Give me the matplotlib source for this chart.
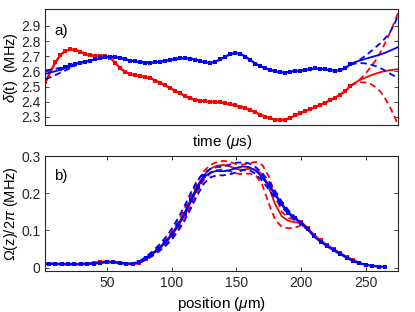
import numpy as np
import matplotlib
matplotlib.use("Agg")
import matplotlib.pyplot as plt

plt.rcParams["font.family"] = ["Liberation Sans", "DejaVu Sans"]
plt.rcParams["mathtext.fontset"] = "custom"
plt.rcParams["mathtext.rm"] = "Liberation Sans"
plt.rcParams["mathtext.it"] = "Liberation Sans:italic"

# ---- panel a) detuning vs time (us) ----
t_red_start = 0.0
delta_red = [2.53, 2.60, 2.66, 2.71, 2.735, 2.745, 2.743, 2.73, 2.715, 2.706,
             2.703, 2.705, 2.702, 2.69, 2.655, 2.62, 2.597, 2.583, 2.575, 2.568,
             2.562, 2.555, 2.54, 2.524, 2.508, 2.49, 2.472, 2.455, 2.437, 2.423,
             2.413, 2.408, 2.404, 2.401, 2.399, 2.396, 2.39, 2.383, 2.376, 2.368,
             2.358, 2.345, 2.33, 2.316, 2.302, 2.29, 2.283, 2.279, 2.283, 2.295,
             2.31, 2.325, 2.34, 2.353, 2.366, 2.379, 2.395, 2.41, 2.428, 2.448,
             2.47, 2.505]
t_blue_start = 0.15
delta_blue = [2.615, 2.628, 2.64, 2.65, 2.658, 2.665, 2.672, 2.68, 2.688, 2.694,
              2.697, 2.695, 2.688, 2.68, 2.672, 2.666, 2.662, 2.658, 2.657, 2.66,
              2.665, 2.67, 2.676, 2.682, 2.686, 2.687, 2.685, 2.678, 2.668, 2.66,
              2.657, 2.665, 2.68, 2.698, 2.714, 2.722, 2.716, 2.698, 2.675, 2.652,
              2.635, 2.62, 2.61, 2.60, 2.594, 2.593, 2.598, 2.603, 2.605, 2.61,
              2.616, 2.62, 2.618, 2.613, 2.609, 2.605, 2.608, 2.622, 2.648]

# extrapolated fits at the end of the pulse
t_end = [3.05, 3.10, 3.15, 3.20, 3.25, 3.30, 3.35, 3.40, 3.45, 3.50, 3.53]
red_fit_end = [2.505, 2.527, 2.545, 2.56, 2.573, 2.585, 2.595, 2.603, 2.609, 2.613, 2.615]
red_hi_end = [2.505, 2.525, 2.55, 2.585, 2.625, 2.67, 2.725, 2.79, 2.86, 2.94, 2.99]
red_lo_end = [2.505, 2.52, 2.528, 2.528, 2.518, 2.498, 2.468, 2.42, 2.36, 2.29, 2.24]
blue_fit_end = [2.648, 2.662, 2.673, 2.683, 2.693, 2.702, 2.712, 2.724, 2.738, 2.752, 2.762]
blue_hi_end = [2.645, 2.66, 2.68, 2.703, 2.73, 2.758, 2.786, 2.82, 2.862, 2.925, 2.98]
blue_lo_end = [2.645, 2.652, 2.655, 2.653, 2.646, 2.636, 2.622, 2.605, 2.585, 2.566, 2.555]

# fits at the start of the pulse (blue only)
t_start = [0.0, 0.05, 0.10, 0.15, 0.20, 0.25, 0.30]
blue_fit_start = [2.585, 2.593, 2.602, 2.612, 2.622, 2.632, 2.64]
blue_hi_start = [2.607, 2.612, 2.618, 2.624, 2.631, 2.638, 2.645]
blue_lo_start = [2.548, 2.562, 2.577, 2.592, 2.607, 2.622, 2.64]

# ---- panel b) Rabi frequency vs position (um) ----
pos = np.arange(0, 270, 5)
omega_blue = [0.010, 0.010, 0.010, 0.0095, 0.009, 0.009, 0.009, 0.010, 0.011, 0.013,
              0.0145, 0.0145, 0.013, 0.011, 0.011, 0.015, 0.025, 0.037, 0.051, 0.068,
              0.088, 0.115, 0.145, 0.182, 0.218, 0.245, np.nan, np.nan, np.nan, np.nan,
              np.nan, np.nan, np.nan, np.nan, 0.243, 0.222, 0.197, 0.170, 0.148, 0.133,
              0.120, 0.103, 0.084, 0.070, 0.058, 0.047, 0.037, 0.027, 0.018, 0.012,
              0.008, 0.005, 0.003, 0.002]
pos_red = np.arange(0, 250, 5)
omega_red = [0.011, 0.011, 0.010, 0.010, 0.010, 0.010, 0.010, 0.011, 0.013, 0.015,
             0.0165, 0.016, 0.013, 0.010, 0.009, 0.013, 0.024, 0.036, 0.050, 0.067,
             0.088, 0.114, 0.144, 0.180, 0.216, np.nan, np.nan, np.nan, np.nan, np.nan,
             np.nan, np.nan, np.nan, np.nan, np.nan, np.nan, np.nan, np.nan, np.nan, np.nan,
             0.122, 0.106, 0.087, 0.073, 0.060, 0.049, 0.039, 0.029, 0.020, 0.013]

pos_fit = np.arange(75, 210, 5)
blue_fit = [0.015, 0.025, 0.037, 0.051, 0.068, 0.089, 0.115, 0.146, 0.182, 0.217,
            0.243, 0.256, 0.260, 0.259, 0.262, 0.268, 0.272, 0.270, 0.260, 0.243,
            0.221, 0.196, 0.171, 0.150, 0.133, 0.119, 0.103]
blue_hi = [0.017, 0.029, 0.043, 0.060, 0.080, 0.104, 0.133, 0.166, 0.203, 0.235,
           0.255, 0.265, 0.270, 0.272, 0.277, 0.282, 0.283, 0.280, 0.270, 0.254,
           0.232, 0.206, 0.178, 0.155, 0.137, 0.121, 0.104]
blue_lo = [0.013, 0.021, 0.031, 0.043, 0.057, 0.075, 0.098, 0.126, 0.160, 0.196,
           0.226, 0.243, 0.248, 0.248, 0.251, 0.256, 0.262, 0.262, 0.252, 0.233,
           0.210, 0.186, 0.163, 0.145, 0.129, 0.117, 0.102]
red_fit = [0.013, 0.024, 0.036, 0.050, 0.067, 0.088, 0.114, 0.145, 0.182, 0.220,
           0.249, 0.266, 0.274, 0.276, 0.272, 0.265, 0.263, 0.266, 0.264, 0.250,
           0.215, 0.170, 0.138, 0.126, 0.122, 0.120, 0.104]
red_hi = [0.014, 0.026, 0.039, 0.054, 0.073, 0.096, 0.124, 0.157, 0.195, 0.232,
          0.260, 0.276, 0.284, 0.287, 0.284, 0.278, 0.277, 0.281, 0.284, 0.276,
          0.245, 0.195, 0.150, 0.134, 0.128, 0.123, 0.105]
red_lo = [0.012, 0.022, 0.033, 0.046, 0.061, 0.080, 0.104, 0.133, 0.168, 0.206,
          0.236, 0.254, 0.262, 0.264, 0.259, 0.253, 0.251, 0.253, 0.248, 0.222,
          0.172, 0.128, 0.110, 0.106, 0.107, 0.114, 0.102]

RED = (1, 0, 0)
BLUE = (0, 0, 1)
AXC = (0.15, 0.15, 0.15)
dash = (0, (3.5, 2.2))

fig = plt.figure(figsize=(4.15, 3.12), dpi=100)
ax1 = fig.add_axes([0.1096, 0.5994, 0.8502, 0.3708])
ax2 = fig.add_axes([0.1096, 0.1314, 0.8502, 0.3686])

def style(ax):
    for s in ax.spines.values():
        s.set_color(AXC)
        s.set_linewidth(0.8)
    ax.tick_params(direction="in", length=3, width=0.6, colors=AXC,
                   labelsize=10, top=True, right=True, labelcolor=(0.15, 0.15, 0.15))

# panel a
t_red = t_red_start + 0.05 * np.arange(len(delta_red))
t_blue = t_blue_start + 0.05 * np.arange(len(delta_blue))
ax1.plot(t_end, red_fit_end, color=RED, lw=1.3)
ax1.plot(t_end, red_hi_end, color=RED, lw=1.3, ls=dash)
ax1.plot(t_end, red_lo_end, color=RED, lw=1.3, ls=dash)
ax1.plot(t_red, delta_red, color=RED, lw=1.7, marker="s", ms=2.4, mew=0)
ax1.plot(t_start, blue_fit_start, color=BLUE, lw=1.3)
ax1.plot(t_start, blue_hi_start, color=BLUE, lw=1.3, ls=dash)
ax1.plot(t_start, blue_lo_start, color=BLUE, lw=1.3, ls=dash)
ax1.plot(t_end, blue_fit_end, color=BLUE, lw=1.3)
ax1.plot(t_end, blue_hi_end, color=BLUE, lw=1.3, ls=dash)
ax1.plot(t_end, blue_lo_end, color=BLUE, lw=1.3, ls=dash)
ax1.plot(t_blue, delta_blue, color=BLUE, lw=1.7, marker="s", ms=2.4, mew=0)
ax1.set_xlim(0, 3.53)
ax1.set_ylim(2.247, 3.01)
ax1.set_yticks([2.3, 2.4, 2.5, 2.6, 2.7, 2.8, 2.9])
ax1.set_xticks([])
style(ax1)
ax1.set_xlabel(r"time ($\mu$s)", fontsize=11, labelpad=6)
ax1.set_ylabel(r"$\delta$(t)  (MHz)", fontsize=10.5)
ax1.yaxis.set_label_coords(-0.072, 0.5)
ax1.text(0.025, 0.78, "a)", transform=ax1.transAxes, fontsize=11)

# panel b
ax2.plot(pos_fit, red_fit, color=RED, lw=1.3)
ax2.plot(pos_fit, red_hi, color=RED, lw=1.3, ls=dash)
ax2.plot(pos_fit, red_lo, color=RED, lw=1.3, ls=dash)
ax2.plot(pos_red, omega_red, color=RED, lw=1.7, marker="s", ms=2.4, mew=0)
ax2.plot(pos_fit, blue_fit, color=BLUE, lw=1.3)
ax2.plot(pos_fit, blue_hi, color=BLUE, lw=1.3, ls=dash)
ax2.plot(pos_fit, blue_lo, color=BLUE, lw=1.3, ls=dash)
ax2.plot(pos, omega_blue, color=BLUE, lw=1.7, marker="s", ms=2.4, mew=0)
ax2.set_xlim(2.6, 275)
ax2.set_ylim(-0.009, 0.3)
ax2.set_xticks([50, 100, 150, 200, 250])
ax2.set_yticks([0, 0.1, 0.2, 0.3])
ax2.set_yticklabels(["0", "0.1", "0.2", "0.3"])
style(ax2)
ax2.set_xlabel(r"position ($\mu$m)", fontsize=11, labelpad=4)
ax2.set_ylabel(r"$\Omega$(z)/2$\pi$ (MHz)", fontsize=10.5)
ax2.yaxis.set_label_coords(-0.072, 0.5)
ax2.text(0.025, 0.79, "b)", transform=ax2.transAxes, fontsize=11)

fig.savefig("out.png", dpi=100)
